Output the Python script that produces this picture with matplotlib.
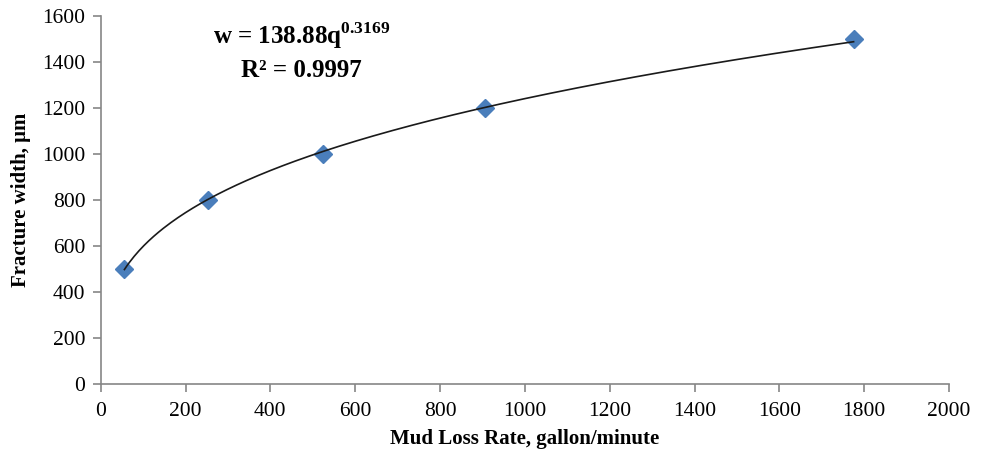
import numpy as np
import matplotlib.pyplot as plt

plt.rcParams['font.family'] = ['Liberation Serif', 'DejaVu Serif']
plt.rcParams['mathtext.fontset'] = 'custom'
plt.rcParams['mathtext.rm'] = 'Liberation Serif'
plt.rcParams['mathtext.bf'] = 'Liberation Serif:bold'

# measured points
loss_rate = [56, 254, 525, 906, 1775]
frac_width = [500, 800, 1000, 1200, 1500]

# power-law fit coefficients
coef_a = 138.88
coef_b = 0.3169
r_squared = 0.9997

fig = plt.figure(figsize=(9.85, 4.54), dpi=100)
ax = fig.add_axes([0.1022, 0.1542, 0.8613, 0.8112])

q = np.linspace(min(loss_rate), max(loss_rate), 300)
ax.plot(q, coef_a * q ** coef_b, color='#1a1a1a', lw=1.2, zorder=3)
ax.plot(loss_rate, frac_width, linestyle='none', marker='D', ms=9.5,
        color='#4a7ebb', zorder=2)

ax.set_xlim(0, 2000)
ax.set_ylim(0, 1600)
ax.set_xticks(range(0, 2001, 200))
ax.set_yticks(range(0, 1601, 200))

for side in ('top', 'right'):
    ax.spines[side].set_visible(False)
for side in ('left', 'bottom'):
    ax.spines[side].set_color('#868686')
    ax.spines[side].set_linewidth(1.2)
ax.tick_params(direction='out', length=6, width=1.2, color='#868686',
               labelsize=15.5, pad=5)
ax.tick_params(axis='x', pad=7)

ax.set_xlabel('Mud Loss Rate, gallon/minute', fontsize=15, fontweight='bold',
              labelpad=6)
ax.set_ylabel('Fracture width, μm', fontsize=15, fontweight='bold', labelpad=8)

ax.text(0.237, 0.945, r'w = %.2fq$^{\mathbf{%.4f}}$' % (coef_a, coef_b),
        transform=ax.transAxes, ha='center', va='center', fontsize=18,
        fontweight='bold')
ax.text(0.237, 0.852, 'R² = %.4f' % r_squared, transform=ax.transAxes,
        ha='center', va='center', fontsize=18, fontweight='bold')

fig.savefig('out.png', dpi=100)
